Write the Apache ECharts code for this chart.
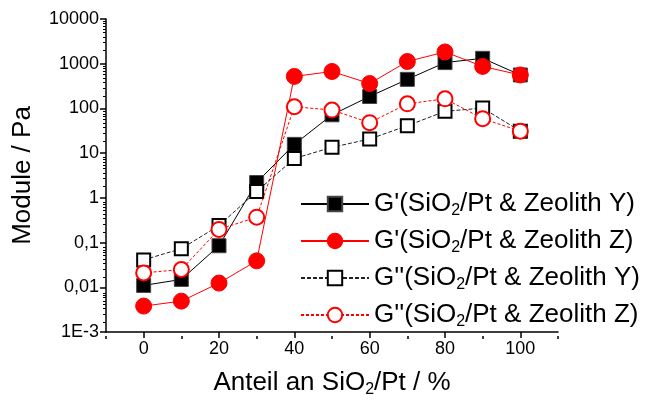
<!DOCTYPE html>
<html>
<head>
<meta charset="utf-8">
<script src="https://cdn.jsdelivr.net/npm/echarts@6/dist/echarts.min.js"></script>
<style>
html,body{margin:0;padding:0;background:#fff;}
#c{width:657px;height:403px;}
</style>
</head>
<body>
<div id="c"></div>
<script>
// x categories (SiO2/Pt share, %)
var xValues = [0, 10, 20, 30, 40, 50, 60, 70, 80, 90, 100];
// G' (SiO2/Pt & Zeolith Y)
var gPrimeY = [0.011, 0.015, 0.085, 2.2, 15.7, 72, 185, 447, 1060, 1320, 560];
// G' (SiO2/Pt & Zeolith Z)
var gPrimeZ = [0.0038, 0.0049, 0.0124, 0.039, 520, 670, 360, 1120, 1830, 870, 560];
// G'' (SiO2/Pt & Zeolith Y)
var gDoubleY = [0.041, 0.073, 0.24, 1.39, 7.6, 13.5, 20.7, 41, 86, 102, 31];
// G'' (SiO2/Pt & Zeolith Z)
var gDoubleZ = [0.021, 0.025, 0.197, 0.37, 109, 92, 48, 127, 164, 59, 31];

var seriesNames = [
  "G'(SiO2/Pt & Zeolith Y)",
  "G'(SiO2/Pt & Zeolith Z)",
  "G''(SiO2/Pt & Zeolith Y)",
  "G''(SiO2/Pt & Zeolith Z)"
];
var yTickValues = [0.001, 0.01, 0.1, 1, 10, 100, 1000, 10000];
var yTickLabels = ['1E-3', '0,01', '0,1', '1', '10', '100', '1000', '10000'];
var yMinorTicks = [];
for (var e = -3; e < 4; e++) {
  for (var m = 2; m <= 9; m++) yMinorTicks.push(m * Math.pow(10, e));
}
var xTickValues = [0, 20, 40, 60, 80, 100];
var xMinorTicks = [-10, 10, 30, 50, 70, 90, 110];

function pairs(arr) { return xValues.map(function (x, i) { return [x, arr[i]]; }); }

var FONT = '"Liberation Sans", Arial, sans-serif';
var gridBox = { left: 106, top: 19, width: 452, bottom: 67 };

var chart = echarts.init(document.getElementById('c'), null, { renderer: 'canvas' });
chart.setOption({
  animation: false,
  backgroundColor: '#fff',
  grid: [
    Object.assign({ containLabel: false }, gridBox),
    Object.assign({ containLabel: false }, gridBox)
  ],
  xAxis: [{
    gridIndex: 0, type: 'value', min: -10, max: 110,
    name: '{t|Anteil an SiO}{s|2}{t|/Pt / %}',
    nameLocation: 'middle', nameGap: 36,
    nameTextStyle: {
      rich: {
        t: { fontFamily: FONT, fontSize: 26, color: '#000', lineHeight: 30 },
        s: { fontFamily: FONT, fontSize: 16, color: '#000', lineHeight: 30, verticalAlign: 'bottom', padding: [10, 0, 0, 0] }
      }
    },
    axisLine: { show: true, onZero: false, lineStyle: { color: '#000', width: 1.5 } },
    axisTick: { show: true, length: 6, customValues: xTickValues, lineStyle: { color: '#000', width: 1.5 } },
    axisLabel: { customValues: xTickValues, fontFamily: FONT, fontSize: 18, color: '#000', margin: 8 },
    splitLine: { show: false }
  }, {
    gridIndex: 1, type: 'value', min: -10, max: 110,
    axisLine: { show: false, onZero: false },
    axisTick: { show: true, length: 3, customValues: xMinorTicks, lineStyle: { color: '#000', width: 1.5 } },
    axisLabel: { show: false },
    splitLine: { show: false }
  }],
  yAxis: [{
    gridIndex: 0, type: 'log', logBase: 10, min: 0.001, max: 10000,
    name: 'Module / Pa', nameLocation: 'middle', nameGap: 70, nameRotate: 90,
    nameTextStyle: { fontFamily: FONT, fontSize: 26, color: '#000' },
    axisLine: { show: true, onZero: false, lineStyle: { color: '#000', width: 1.5 } },
    axisTick: { show: true, length: 6, customValues: yTickValues, lineStyle: { color: '#000', width: 1.5 } },
    axisLabel: {
      customValues: yTickValues, fontFamily: FONT, fontSize: 18, color: '#000', margin: 7,
      formatter: function (v) {
        var idx = Math.round(Math.log10(v)) + 3;
        return yTickLabels[idx];
      }
    },
    splitLine: { show: false }
  }, {
    gridIndex: 1, type: 'log', logBase: 10, min: 0.001, max: 10000,
    axisLine: { show: false, onZero: false },
    axisTick: { show: true, length: 3, customValues: yMinorTicks, lineStyle: { color: '#000', width: 1 } },
    axisLabel: { show: false },
    splitLine: { show: false }
  }],
  legend: {
    orient: 'vertical', left: 295, top: 186,
    itemWidth: 68, itemHeight: 18, itemGap: 9,
    data: seriesNames,
    formatter: function (name) {
      var parts = name.split('SiO2');
      return '{t|' + parts[0] + 'SiO}{s|2}{t|' + parts[1] + '}';
    },
    textStyle: {
      rich: {
        t: { fontFamily: FONT, fontSize: 26, color: '#000', lineHeight: 30 },
        s: { fontFamily: FONT, fontSize: 16, color: '#000', lineHeight: 30, verticalAlign: 'bottom', padding: [10, 0, 0, 0] }
      }
    }
  },
  series: [{
    name: seriesNames[0], type: 'line', data: pairs(gPrimeY), z: 2,
    symbol: 'rect', symbolSize: 14,
    lineStyle: { color: '#000', width: 1 },
    itemStyle: { color: '#000', borderColor: '#444', borderWidth: 1 }
  }, {
    name: seriesNames[1], type: 'line', data: pairs(gPrimeZ), z: 4,
    symbol: 'circle', symbolSize: 16,
    lineStyle: { color: '#ff0000', width: 1 },
    itemStyle: { color: '#ff0000', borderColor: '#ff0000', borderWidth: 1 }
  }, {
    name: seriesNames[2], type: 'line', data: pairs(gDoubleY), z: 3,
    symbol: 'rect', symbolSize: 13,
    lineStyle: { color: '#222', width: 1, type: [4, 2] },
    itemStyle: { color: '#fff', borderColor: '#000', borderWidth: 2 }
  }, {
    name: seriesNames[3], type: 'line', data: pairs(gDoubleZ), z: 5,
    symbol: 'circle', symbolSize: 15,
    lineStyle: { color: '#ff0000', width: 1, type: [3, 2] },
    itemStyle: { color: '#fff', borderColor: '#ff0000', borderWidth: 2 }
  }]
});
</script>
</body>
</html>
